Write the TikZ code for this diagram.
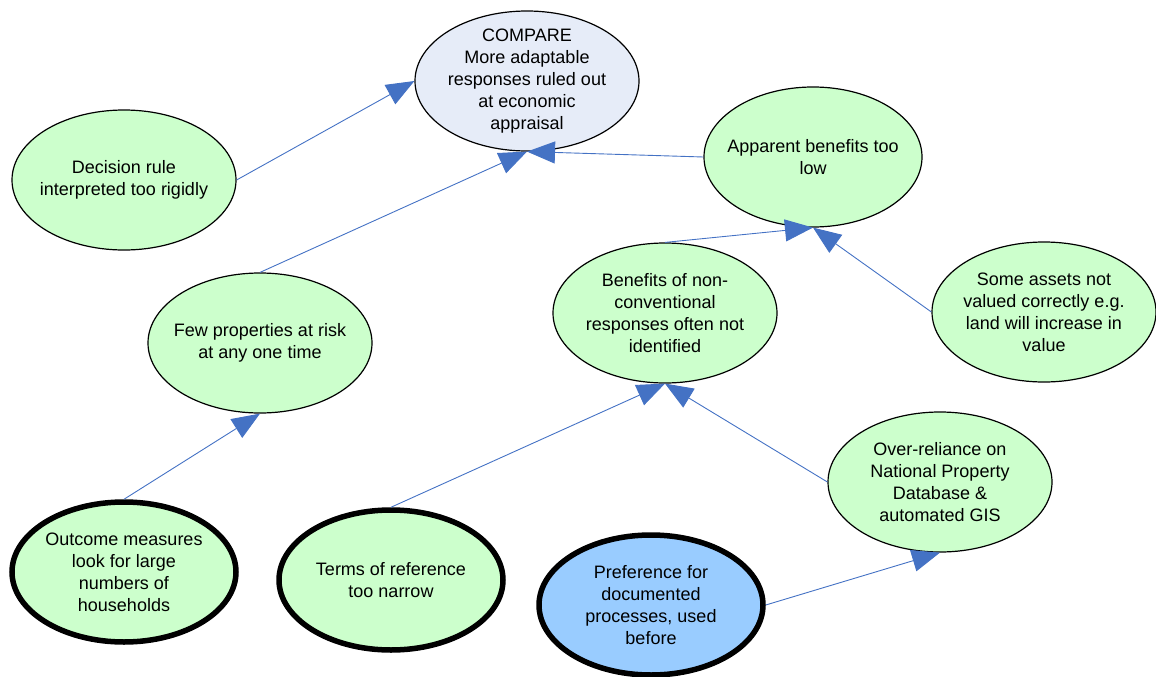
\documentclass[tikz,border=0pt]{standalone}
\usepackage{fontspec}
\setmainfont{Liberation Sans}
\usetikzlibrary{shapes.geometric,arrows.meta}
\definecolor{leafgreen}{HTML}{CCFFCC}
\definecolor{goalblue}{HTML}{E6ECF8}
\definecolor{rootblue}{HTML}{99CCFF}
\definecolor{linkblue}{HTML}{4472C4}
\tikzset{
  ell/.style={ellipse, draw=black, line width=1.2pt, fill=leafgreen,
    minimum width=224pt, minimum height=140pt, inner sep=0pt},
  rootell/.style={ell, line width=5.5pt},
  txt/.style={align=center, inner sep=0pt, text=black,
    font=\fontsize{18}{22}\selectfont},
  link/.style={draw=linkblue, line width=0.9pt,
    -{Triangle[length=28pt,width=22pt,fill=linkblue]}},
}
\begin{document}
\begin{tikzpicture}[x=1pt,y=-1pt]
\useasboundingbox (0,0) rectangle (1156,677);

% effect at the top
\node[ell, fill=goalblue, label={[txt, name=cmpt]center:{COMPARE\\More adaptable\\responses ruled out\\at economic\\appraisal}}] (cmp) at (527,81) {};

% intermediate causes
\node[ell, label={[txt, name=dect]center:{Decision rule\\interpreted too rigidly}}] (dec) at (124,180) {};
\node[ell, minimum width=218pt, label={[txt, name=appt]center:{Apparent benefits too\\low}}] (app) at (813,157) {};
\node[ell, label={[txt, name=fewt]center:{Few properties at risk\\at any one time}}] (few) at (260,343) {};
\node[ell, label={[txt, name=bent]center:{Benefits of non-\\conventional\\responses often not\\identified}}] (ben) at (665,313) {};
\node[ell, label={[txt, name=astt]center:{Some assets not\\valued correctly e.g.\\land will increase in\\value}}] (ast) at (1044,312) {};
\node[ell, label={[txt, name=ovrt]center:{Over-reliance on\\National Property\\Database \&\\automated GIS}}] (ovr) at (940,482) {};

% root causes
\node[rootell, label={[txt, name=outt]center:{Outcome measures\\look for large\\numbers of\\households}}] (out) at (124,572) {};
\node[rootell, label={[txt, name=trmt]center:{Terms of reference\\too narrow}}] (trm) at (391,580) {};
\node[rootell, fill=rootblue, label={[txt, name=prft]center:{Preference for\\documented\\processes, used\\before}}] (prf) at (651,605) {};

% causal links
\draw[link] (dec.east) -- (cmp.west);
\draw[link] (few.north) -- (cmp.south);
\draw[link] (app.west) -- (cmp.south);
\draw[link] (ben.north) -- (app.south);
\draw[link] (ast.west) -- (app.south);
\draw[link] (out.north) -- (few.south);
\draw[link] (trm.north) -- (ben.south);
\draw[link] (ovr.west) -- (ben.south);
\draw[link] (prf.east) -- (ovr.south);
\end{tikzpicture}
\end{document}
